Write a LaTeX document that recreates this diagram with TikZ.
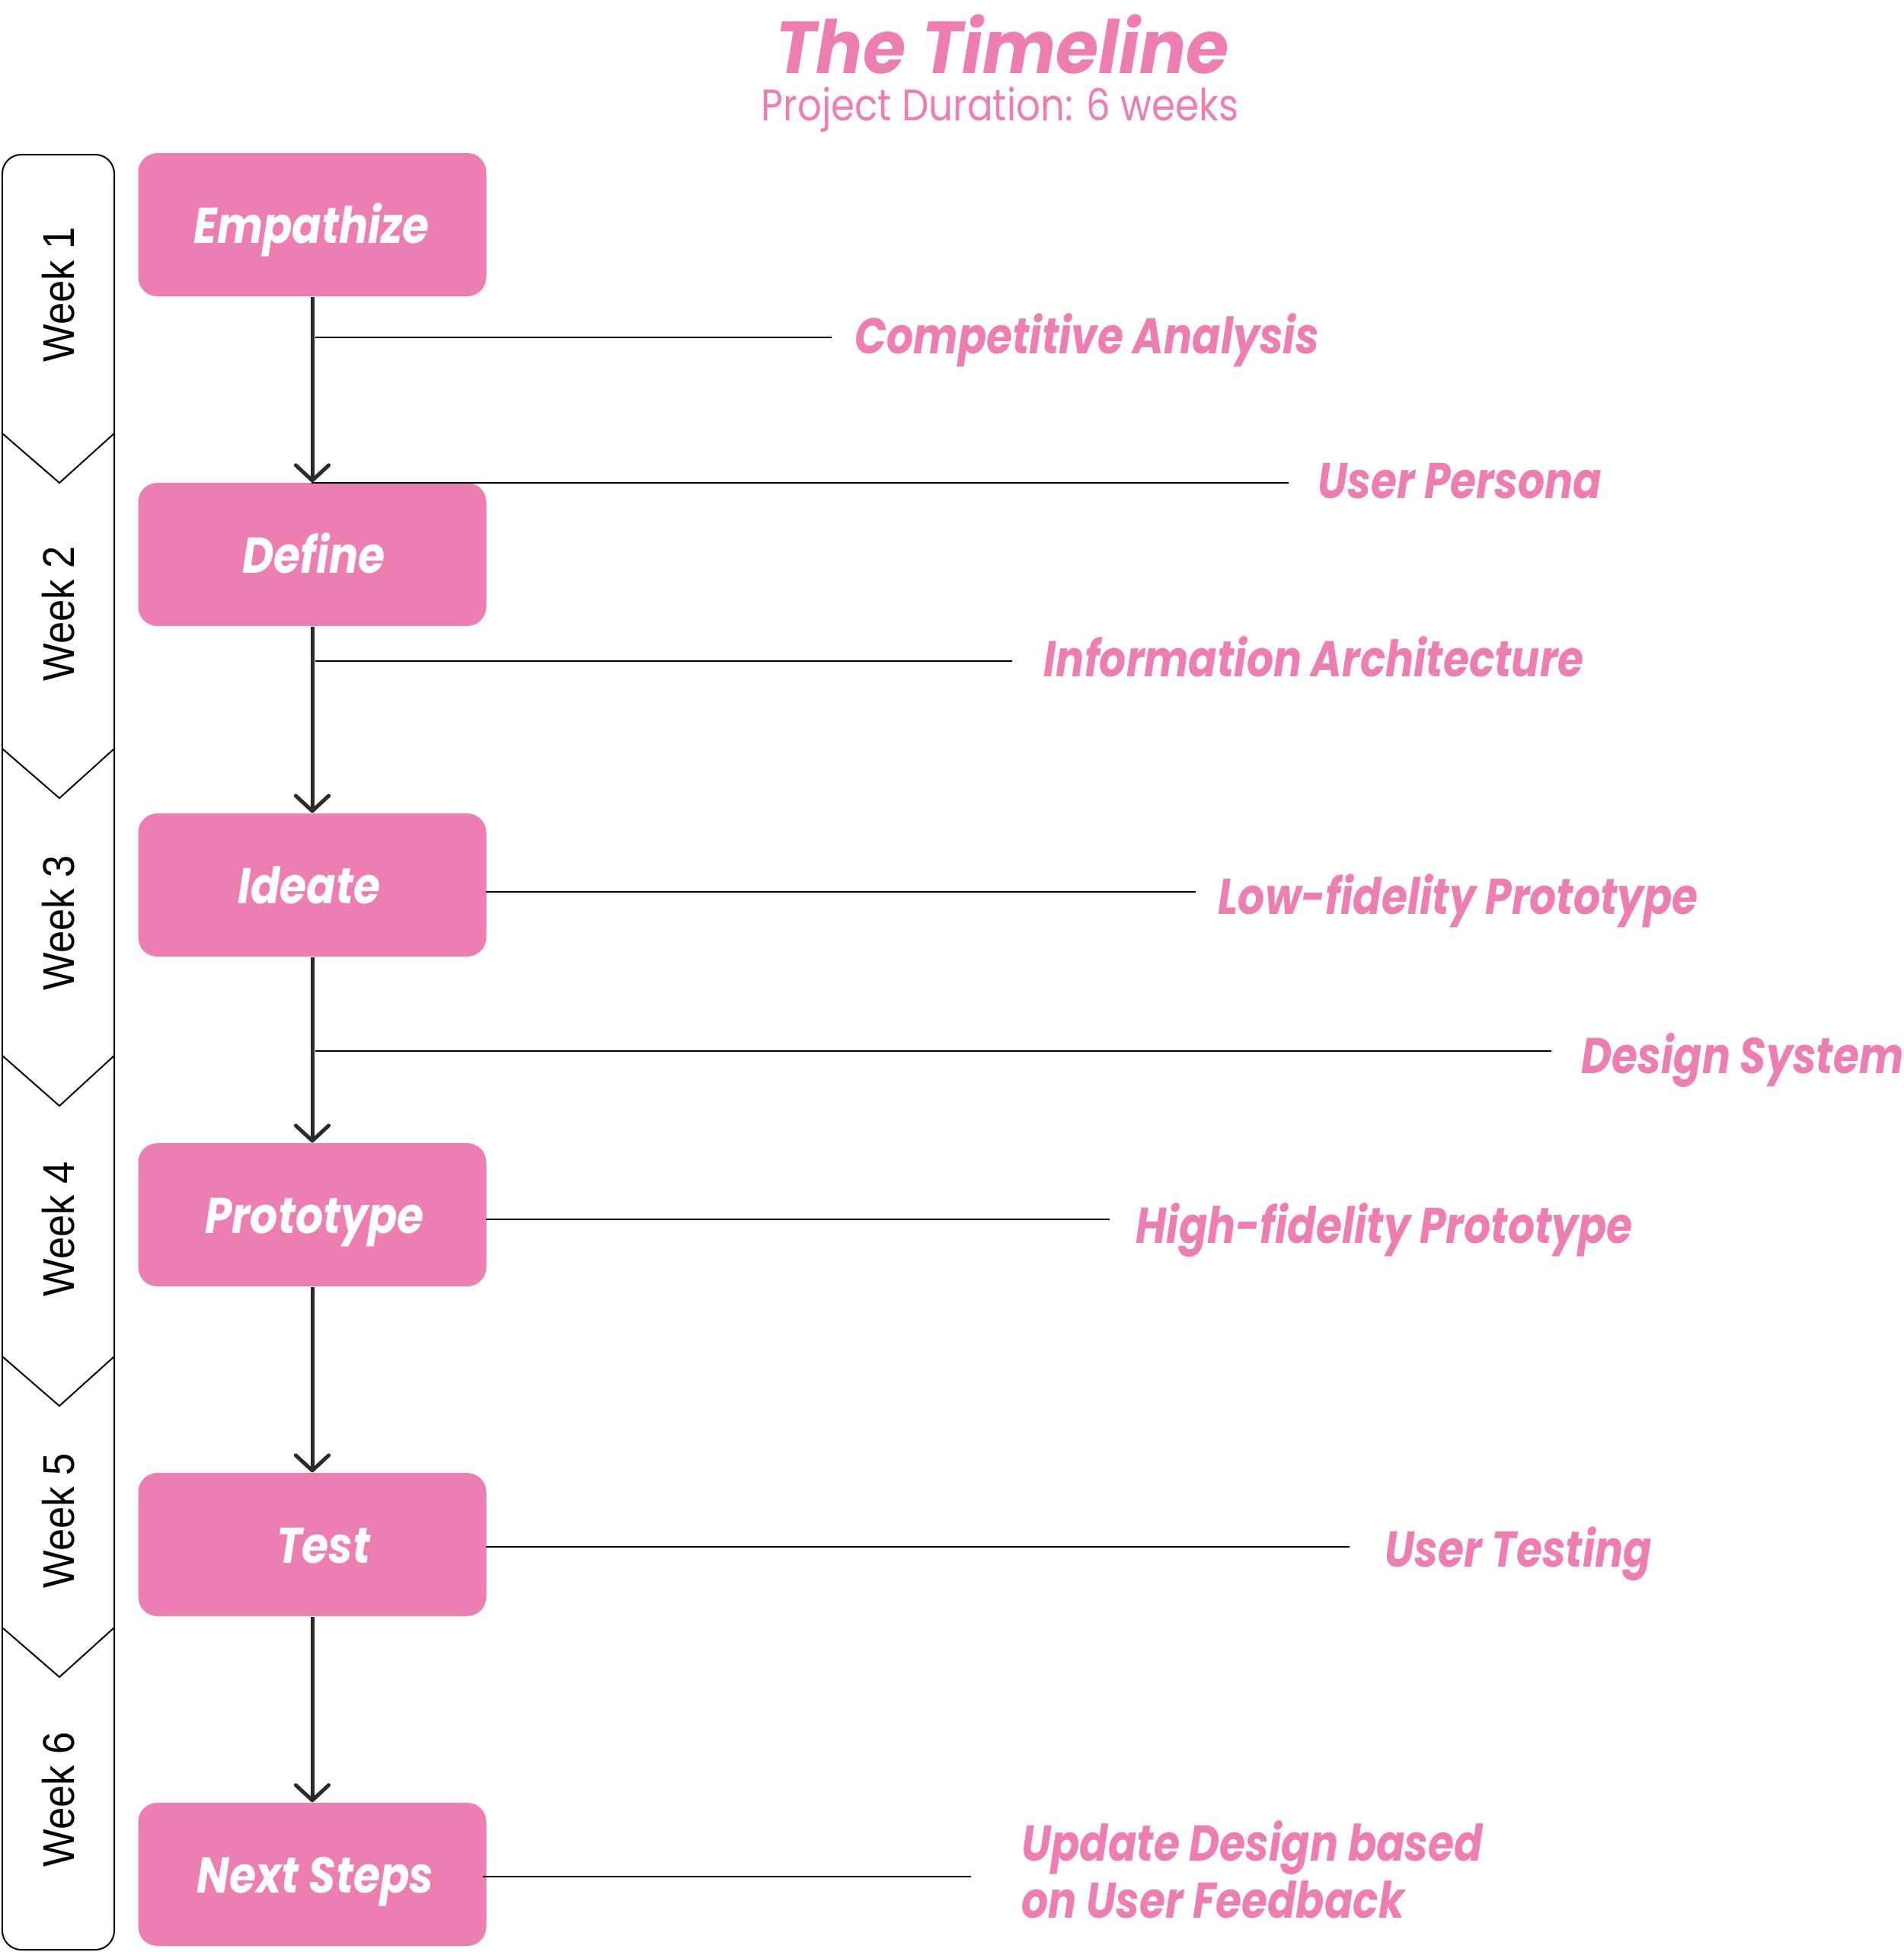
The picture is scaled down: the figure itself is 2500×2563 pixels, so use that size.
\documentclass[tikz,border=0pt]{standalone}
\usepackage{fontspec}
\setmainfont{Poppins}
\newfontfamily\popb[FakeStretch=0.86]{Poppins}
\newfontfamily\popl[FakeStretch=0.835]{Poppins}
\newfontfamily\popt[FakeStretch=0.94]{Poppins}
\newfontfamily\weekfont[FakeStretch=0.9]{Liberation Sans}
\usetikzlibrary{arrows.meta}
\definecolor{tlpink}{HTML}{EC7EB1}
\definecolor{flowgray}{HTML}{2A2A2A}
\tikzset{
  stepbox/.style={fill=tlpink, draw=none, rounded corners=7.5pt, minimum width=137.1pt, minimum height=56.4pt, inner sep=0pt},
  boxtext/.style={text=white, font=\popb\bfseries\itshape\fontsize{19.8}{22}\selectfont, anchor=base, inner sep=0pt},
  lab/.style={text=tlpink, font=\popl\bfseries\itshape\fontsize{19.8}{22}\selectfont, anchor=base west, inner sep=0pt},
  flow/.style={draw=flowgray, line width=1.5pt, -{Straight Barb[length=6pt,width=13pt,line width=1.5pt,round]}},
  tick/.style={draw=black, line width=0.75pt},
  weekline/.style={draw=black, line width=0.6pt},
  weeklab/.style={font=\weekfont\fontsize{17.5}{20}\selectfont, rotate=90, inner sep=0pt, anchor=center}
}
\begin{document}
\begin{tikzpicture}[x=0.3pt,y=-0.3pt]
\useasboundingbox (0,0) rectangle (2500,2563);
% title
\node[text=tlpink, font=\popt\bfseries\itshape\fontsize{29}{32}\selectfont, anchor=base, inner sep=0pt] (title) at (1316,96) {The Timeline};
\node[text=tlpink, font=\popb\fontsize{17.4}{20}\selectfont, anchor=base, inner sep=0pt] (subtitle) at (1313,158) {Project Duration: 6 weeks};
% week column
\draw[weekline, rounded corners=7.5pt] (3,203) rectangle (150,2560);
\draw[weekline] (3,569) -- (78,634) -- (150,569);
\draw[weekline] (3,983) -- (78,1048) -- (150,983);
\draw[weekline] (3,1386) -- (78,1452) -- (150,1386);
\draw[weekline] (3,1781) -- (78,1846) -- (150,1781);
\draw[weekline] (3,2137) -- (78,2202) -- (150,2137);
\node[weeklab] (w1) at (77,387) {Week 1};
\node[weeklab] (w2) at (77,806) {Week 2};
\node[weeklab] (w3) at (77,1212) {Week 3};
\node[weeklab] (w4) at (77,1614) {Week 4};
\node[weeklab] (w5) at (77,1997) {Week 5};
\node[weeklab] (w6) at (77,2363) {Week 6};
% boxes
\node[stepbox] (emp) at (410,295) {};
\node[stepbox] (def) at (410,728) {};
\node[stepbox] (ide) at (410,1162) {};
\node[stepbox] (pro) at (410,1595) {};
\node[stepbox] (tes) at (410,2028) {};
\node[stepbox] (nxt) at (410,2461) {};
\node[boxtext] (empT) at (409,319) {Empathize};
\node[boxtext] (defT) at (412,752) {Define};
\node[boxtext] (ideT) at (406,1186) {Ideate};
\node[boxtext] (proT) at (413,1619) {Prototype};
\node[boxtext] (tesT) at (425,2052) {Test};
\node[boxtext] (nxtT) at (414,2485) {Next Steps};
% flow arrows
\draw[flow] (emp.south) -- (def.north);
\draw[flow] (def.south) -- (ide.north);
\draw[flow] (ide.south) -- (pro.north);
\draw[flow] (pro.south) -- (tes.north);
\draw[flow] (tes.south) -- (nxt.north);
% labels
\node[lab] (l1) at (1122,464) {Competitive Analysis};
\node[lab] (l2) at (1730,654) {User Persona};
\node[lab] (l3) at (1370,888) {Information Architecture};
\node[lab] (l4) at (1599,1200) {Low-fidelity Prototype};
\node[lab] (l5) at (2076,1409) {Design System};
\node[lab] (l6) at (1491,1632) {High-fidelity Prototype};
\node[lab] (l7) at (1818,2057) {User Testing};
\node[lab] (l8a) at (1341,2443) {Update Design based};
\node[lab] (l8b) at (1341,2518) {on User Feedback};
% tick lines
\coordinate (a1) at (414,443);  \coordinate (b1) at (1092,443);
\coordinate (a2) at (409,634);  \coordinate (b2) at (1692,634);
\coordinate (a3) at (414,868);  \coordinate (b3) at (1329,868);
\coordinate (a4) at (638,1171); \coordinate (b4) at (1570,1171);
\coordinate (a5) at (414,1380); \coordinate (b5) at (2037,1380);
\coordinate (a6) at (638,1601); \coordinate (b6) at (1457,1601);
\coordinate (a7) at (638,2031); \coordinate (b7) at (1772,2031);
\coordinate (a8) at (634,2464); \coordinate (b8) at (1275,2464);
\foreach \i in {1,...,8} { \draw[tick] (a\i) -- (b\i); }
\end{tikzpicture}
\end{document}
